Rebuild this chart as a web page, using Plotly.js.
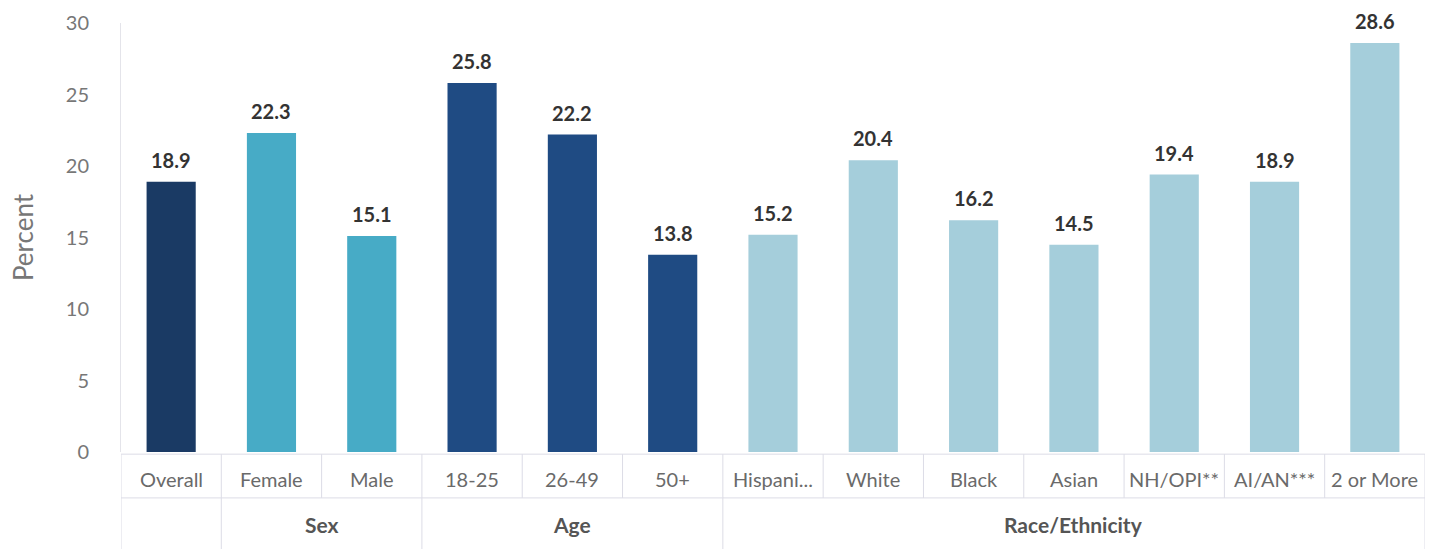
<!DOCTYPE html>
<html>
<head>
<meta charset="utf-8">
<script src="https://cdn.plot.ly/plotly-3.0.1.min.js"></script>
<style>html,body{margin:0;padding:0;background:#fff;}#chart{width:1431px;height:549px;}</style>
</head>
<body>
<div id="chart"></div>
<script>
const categories = ["Overall","Female","Male","18-25","26-49","50+","Hispani...","White","Black","Asian","NH/OPI**","AI/AN***","2 or More"];
const values = [18.9,22.3,15.1,25.8,22.2,13.8,15.2,20.4,16.2,14.5,19.4,18.9,28.6];
const groupOf = ["", "Sex","Sex","Age","Age","Age","Race/Ethnicity","Race/Ethnicity","Race/Ethnicity","Race/Ethnicity","Race/Ethnicity","Race/Ethnicity","Race/Ethnicity"];
const groups = [{name:"", start:0, end:0},{name:"Sex", start:1, end:2},{name:"Age", start:3, end:5},{name:"Race/Ethnicity", start:6, end:12}];
const groupColors = {"": "#1a3a64", "Sex": "#47abc6", "Age": "#1f4b83", "Race/Ethnicity": "#a5cedb"};
const yTicks = [0,5,10,15,20,25,30];

const FONT = "Lato, 'Open Sans', sans-serif";
const xs = categories.map((c,i)=>i);
const trace = {
  type: "bar",
  x: xs,
  y: values,
  width: 0.49,
  marker: {color: groupOf.map(g=>groupColors[g])},
  hoverinfo: "none"
};

const shapes = [];
const annotations = [];
const row1Top = -0.005, row1Bot = -0.107, row2Bot = -0.23;
const lineStyle = {color:"#dcdce6", width:1};
shapes.push({type:"line", xref:"x", yref:"paper", x0:-0.5, x1:12.5, y0:row1Top, y1:row1Top, line:lineStyle});
shapes.push({type:"line", xref:"x", yref:"paper", x0:-0.5, x1:12.5, y0:row1Bot, y1:row1Bot, line:lineStyle});
for (let i=0;i<=13;i++){
  shapes.push({type:"line", xref:"x", yref:"paper", x0:i-0.5, x1:i-0.5, y0:row1Top, y1:row1Bot, line:lineStyle});
}
groups.forEach(g=>{
  shapes.push({type:"line", xref:"x", yref:"paper", x0:g.start-0.5, x1:g.start-0.5, y0:row1Bot, y1:row2Bot, line:lineStyle});
});
shapes.push({type:"line", xref:"x", yref:"paper", x0:12.5, x1:12.5, y0:row1Bot, y1:row2Bot, line:lineStyle});

categories.forEach((c,i)=>{
  annotations.push({xref:"x", yref:"paper", x:i, y:-0.064, text:c, showarrow:false, xanchor:"center", yanchor:"middle",
    font:{family:FONT, size:20, color:"#6a6a6a"}});
  annotations.push({xref:"x", yref:"y", x:i, y:values[i], text:"<b>"+values[i].toFixed(1)+"</b>", showarrow:false, xanchor:"center", yanchor:"bottom", yshift:8,
    font:{family:FONT, size:20, color:"#333"}});
});
groups.forEach(g=>{
  if (!g.name) return;
  annotations.push({xref:"x", yref:"paper", x:(g.start+g.end)/2, y:(row1Bot+row2Bot)/2, text:"<b>"+g.name+"</b>", showarrow:false, xanchor:"center", yanchor:"middle",
    font:{family:FONT, size:21, color:"#555"}});
});

const layout = {
  width: 1431, height: 549,
  margin: {l:121, r:6, t:23, b:97},
  paper_bgcolor: "#fff", plot_bgcolor: "#fff",
  showlegend: false,
  xaxis: {range:[-0.5,12.5], showticklabels:false, showgrid:false, zeroline:false, showline:false, ticks:"", fixedrange:true},
  yaxis: {range:[0,30], tickvals:yTicks, ticktext:yTicks.map(String), showgrid:false, zeroline:false,
    showline:true, linecolor:"#e4e4ea", linewidth:1, ticks:"", ticklabelstandoff:27,
    tickfont:{family:FONT, size:20, color:"#777"},
    title:{text:"Percent", font:{family:FONT, size:26, color:"#777"}, standoff:24}},
  shapes: shapes,
  annotations: annotations
};
Plotly.newPlot("chart", [trace], layout, {displayModeBar:false, staticPlot:true});
</script>
</body>
</html>
